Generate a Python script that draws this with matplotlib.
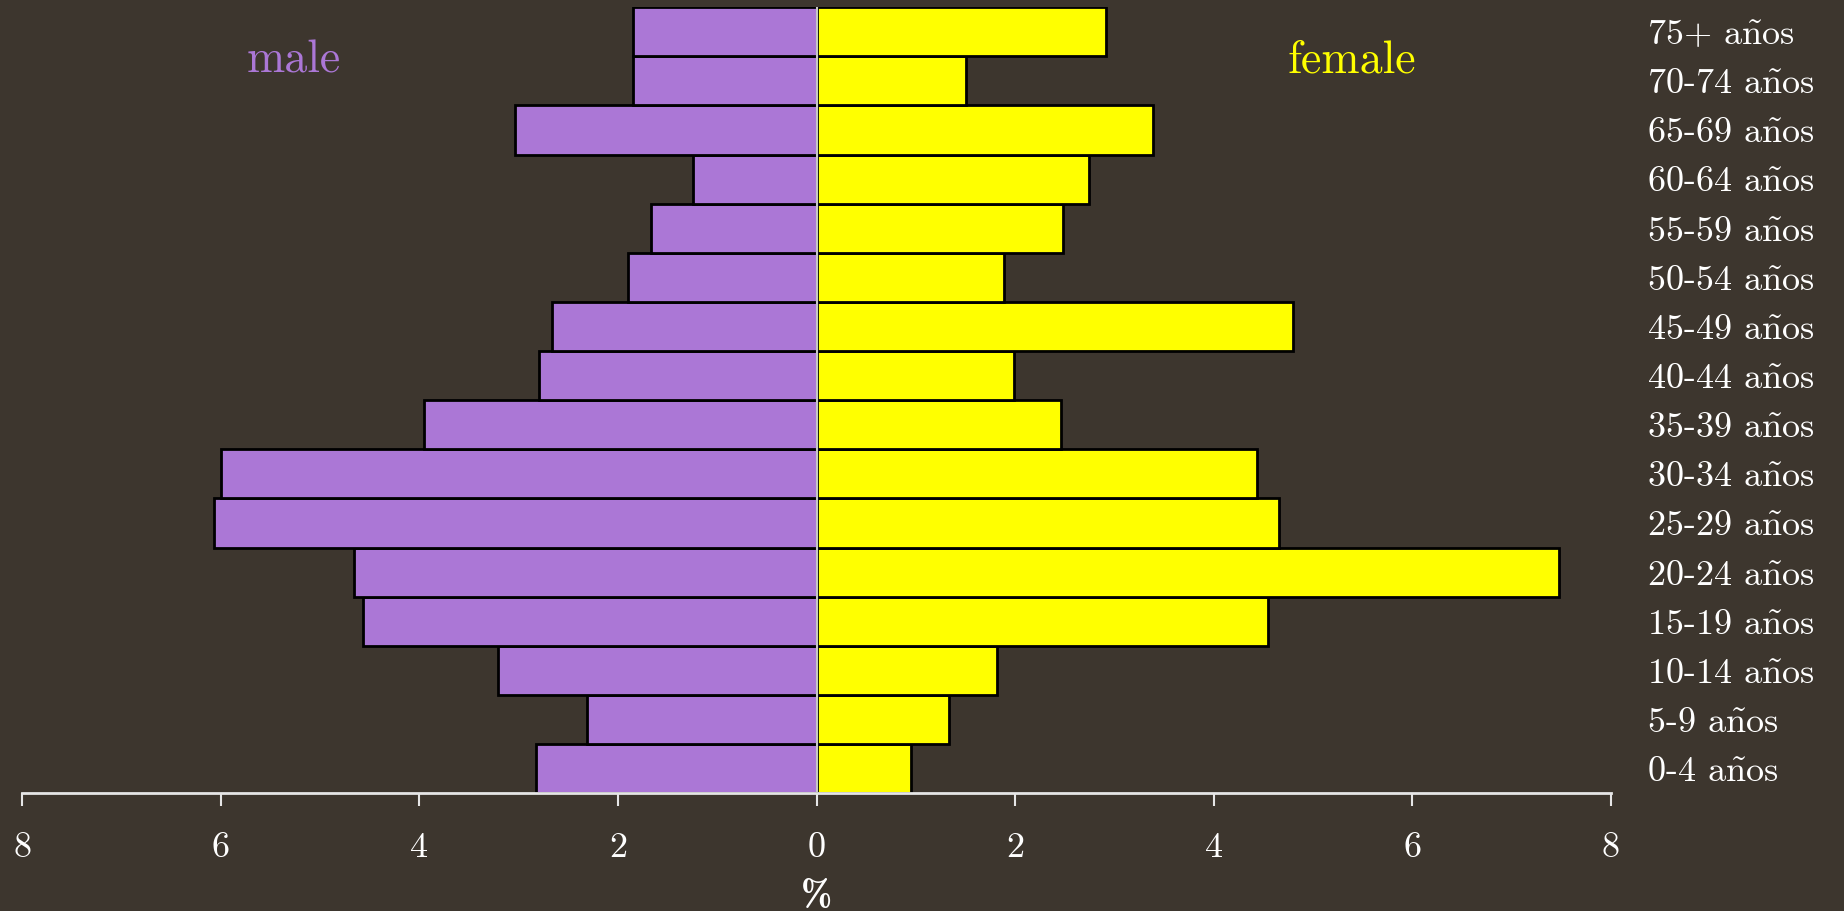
import matplotlib
matplotlib.use("Agg")
import matplotlib.pyplot as plt
import numpy as np

# age groups, bottom to top
ages = ["0-4", "5-9", "10-14", "15-19", "20-24", "25-29", "30-34", "35-39",
        "40-44", "45-49", "50-54", "55-59", "60-64", "65-69", "70-74", "75+"]
male = [2.83, 2.31, 3.21, 4.57, 4.66, 6.07, 6.00, 3.95, 2.80, 2.67,
        1.90, 1.67, 1.25, 3.04, 1.85, 1.85]
female = [0.95, 1.33, 1.82, 4.55, 7.48, 4.66, 4.44, 2.46, 1.99, 4.80,
          1.89, 2.48, 2.74, 3.39, 1.50, 2.91]
xticks = [-8, -6, -4, -2, 0, 2, 4, 6, 8]

bg = "#3d362e"
purple = "#ab77d6"
yellow = "#ffff00"

plt.rcParams['font.family'] = ['cmr10', 'DejaVu Serif']
plt.rcParams['mathtext.fontset'] = 'cm'
plt.rcParams['axes.unicode_minus'] = False

fig = plt.figure(figsize=(18.44, 9.11), dpi=100, facecolor=bg)
ax = fig.add_axes([0.0121, 0.1292, 0.8615, 0.863])
ax.set_facecolor(bg)

y = np.arange(len(ages))
ax.barh(y, -np.array(male), height=1.0, color=purple, edgecolor="black", linewidth=2)
ax.barh(y, female, height=1.0, color=yellow, edgecolor="black", linewidth=2)
ax.axvline(0, color="#c8c8c8", linewidth=1.5, zorder=3)

ax.set_xlim(-8, 8)
ax.set_ylim(-0.5, 15.5)

ax.set_xticks(xticks)
ax.set_xticklabels([str(abs(v)) for v in xticks])
ax.tick_params(axis="x", colors="#e6e6e6", labelcolor="white", labelsize=26,
               length=9, width=1.5, pad=19)
ax.set_yticks(y)
# años with a cm tilde so the font stays the same
ax.set_yticklabels([a + r" a$\tilde{\mathrm{n}}$os" for a in ages])
ax.yaxis.tick_right()
ax.tick_params(axis="y", length=0, labelcolor="white", labelsize=26, pad=26)

for s in ["top", "left", "right"]:
    ax.spines[s].set_visible(False)
ax.spines["bottom"].set_color("#e6e6e6")
ax.spines["bottom"].set_linewidth(2)

ax.set_xlabel("%", color="white", fontsize=27, family=['cmb10', 'DejaVu Serif'],
              labelpad=12)

ax.text(-5.27, 14.16, "male", color=purple, fontsize=33, ha="center", va="baseline")
ax.text(5.39, 14.16, "female", color=yellow, fontsize=33, ha="center", va="baseline")

fig.savefig("out.png", dpi=100, facecolor=bg)
